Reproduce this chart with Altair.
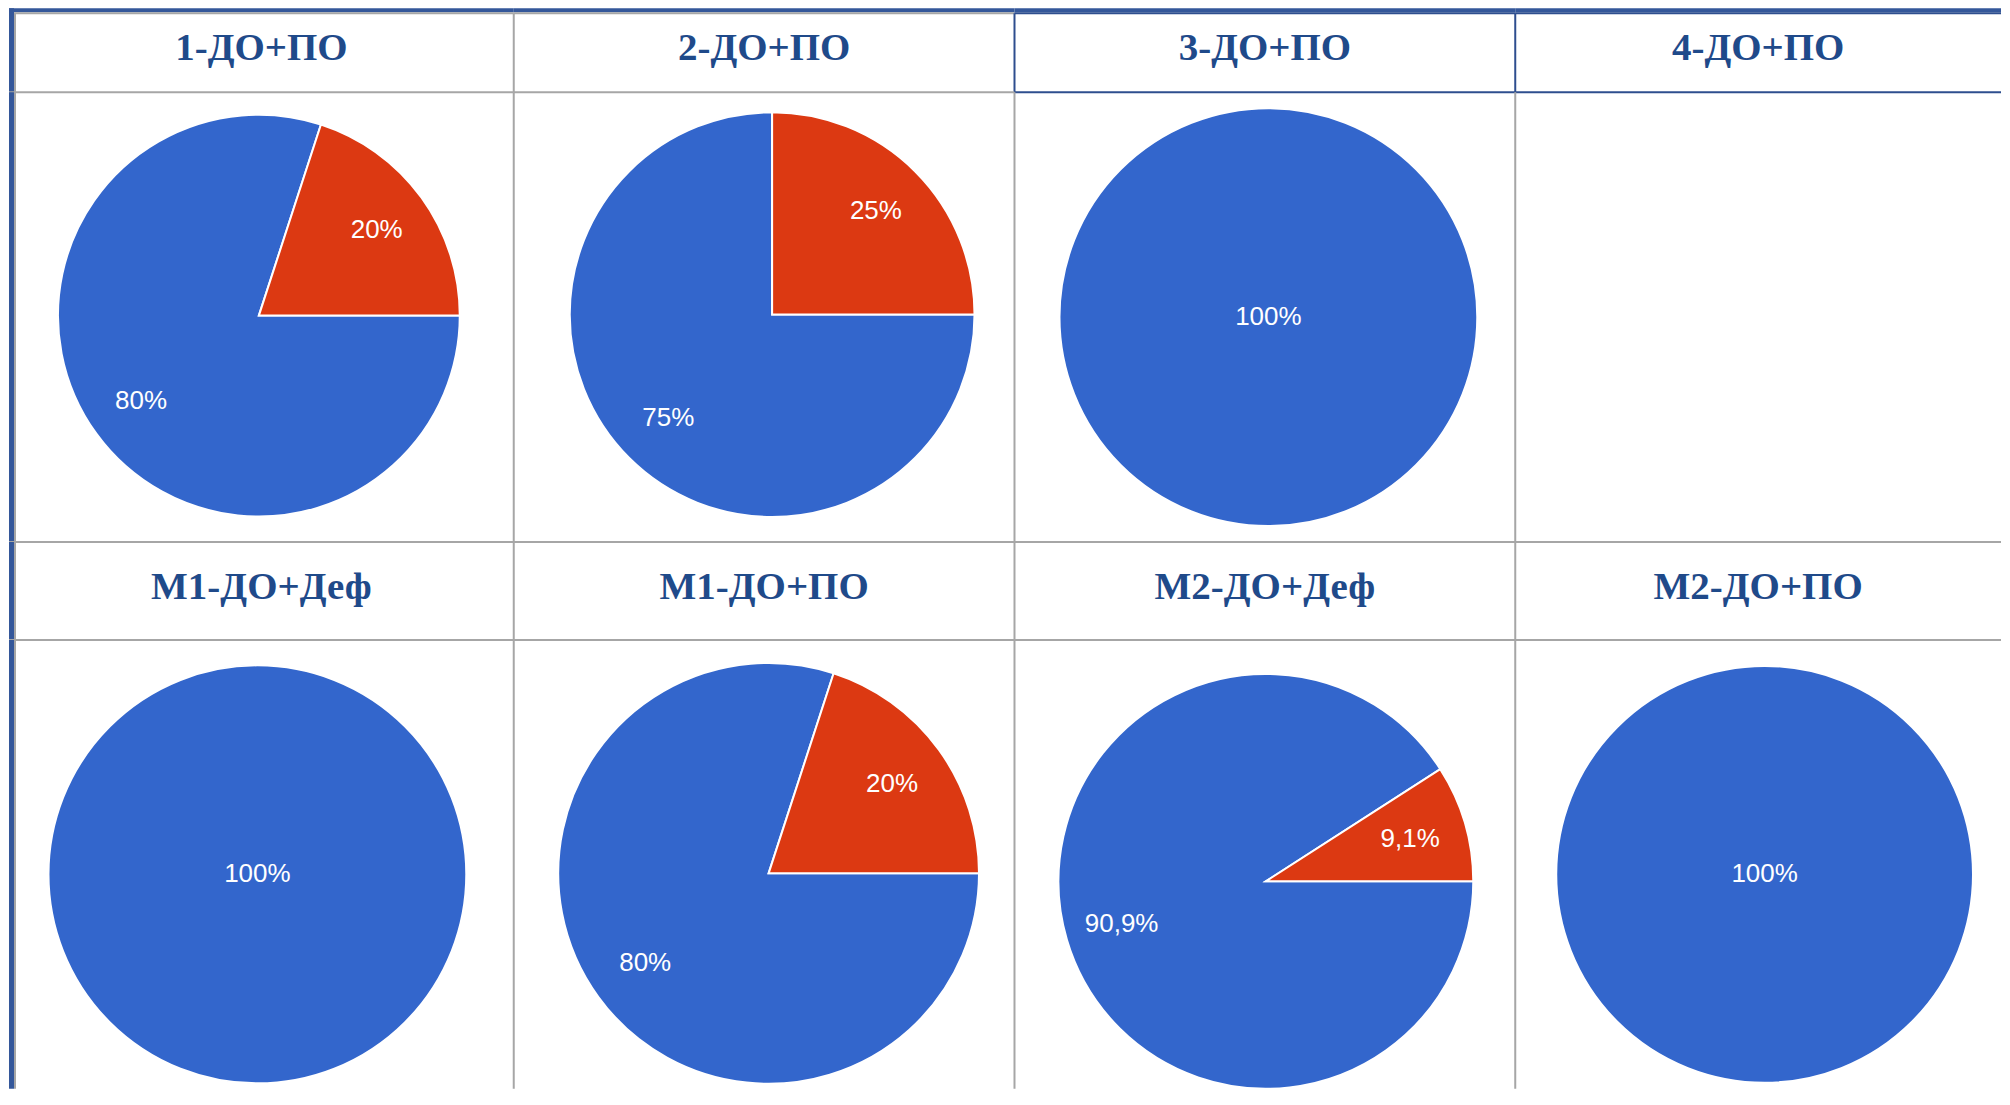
import math
import altair as alt
import pandas as pd

# ---------------- data ----------------
panel_names = ["1-ДО+ПО", "2-ДО+ПО", "3-ДО+ПО", "4-ДО+ПО",
               "М1-ДО+Деф", "М1-ДО+ПО", "М2-ДО+Деф", "М2-ДО+ПО"]

slice_panel = ["1-ДО+ПО", "1-ДО+ПО", "2-ДО+ПО", "2-ДО+ПО", "3-ДО+ПО",
               "М1-ДО+Деф", "М1-ДО+ПО", "М1-ДО+ПО", "М2-ДО+Деф", "М2-ДО+Деф", "М2-ДО+ПО"]
slice_cat = ["Вариант 1", "Вариант 2", "Вариант 1", "Вариант 2", "Вариант 1",
             "Вариант 1", "Вариант 1", "Вариант 2", "Вариант 1", "Вариант 2", "Вариант 1"]
slice_val = [80, 20, 75, 25, 100, 100, 80, 20, 90.9, 9.1, 100]
categories = ["Вариант 1", "Вариант 2"]

df = pd.DataFrame({"pie": slice_panel, "cat": slice_cat, "value": slice_val})
df["order"] = df["cat"].map({c: i for i, c in enumerate(categories)})
df["label"] = df["value"].map(lambda v: f"{v:g}%".replace(".", ","))
hdr_df = pd.DataFrame({"pie": panel_names})

# ---------------- style / layout ----------------
BLUE = "#3366CC"
RED = "#DC3912"
HDR_COLOR = "#1F4A8A"
BAR = "#34579A"
GRID = "#A6A6A6"
BLUE_LINE = "#2E4E8E"

COL_W = [505, 501, 501, 486]
ROW_H = [84, 450, 98, 449]
HDR_BASE = [52, 57]  # text baseline within header rows
BAR_W = 5

# pie geometry per panel: (cx, cy, r) in cell-local pixels
PIE_GEOM = {
    "1-ДО+ПО": (250, 223.5, 201),
    "2-ДО+ПО": (258.5, 222.5, 202.5),
    "3-ДО+ПО": (254, 225, 209),
    "М1-ДО+Деф": (248.5, 234.5, 209),
    "М1-ДО+ПО": (255, 233.5, 210.5),
    "М2-ДО+Деф": (251.5, 241.5, 207.5),
    "М2-ДО+ПО": (249.5, 234.5, 208.5),
}

TH = alt.Scale(domain=[0, 100], range=[math.pi / 2, math.pi / 2 + 2 * math.pi])
one = pd.DataFrame({"k": [0]})


def decorations(w, h, col, top_color, left_color, top_bar=False):
    base = alt.Chart(one)
    layers = []
    ty = 5 if top_bar else 0
    if top_bar:
        layers.append(base.mark_rect(color=BAR).encode(
            x=alt.value(0), x2=alt.value(w), y=alt.value(0), y2=alt.value(4)))
    layers.append(base.mark_rule(color=top_color, strokeWidth=2).encode(
        x=alt.value(0), x2=alt.value(w), y=alt.value(ty)))
    if col == 0:
        layers.append(base.mark_rect(color=BAR).encode(
            x=alt.value(0), x2=alt.value(BAR_W), y=alt.value(0), y2=alt.value(h)))
        layers.append(base.mark_rule(color=GRID, strokeWidth=2).encode(
            x=alt.value(BAR_W + 1), y=alt.value(ty), y2=alt.value(h)))
    else:
        layers.append(base.mark_rule(color=left_color, strokeWidth=2).encode(
            x=alt.value(0), y=alt.value(ty), y2=alt.value(h)))
    return layers


def header_cell(name, row, col):
    w, h = COL_W[col], ROW_H[row * 2]
    blue = (row == 0 and col >= 2)
    lc = BLUE_LINE if blue else GRID
    tc = BLUE_LINE if blue else GRID
    txt = alt.Chart(hdr_df).transform_filter(alt.datum.pie == name).mark_text(
        font="Liberation Serif", fontWeight="bold", fontSize=39, color=HDR_COLOR,
        align="center", baseline="alphabetic"
    ).encode(text="pie:N", x=alt.value(w / 2), y=alt.value(HDR_BASE[row]))
    layers = decorations(w, h, col, tc, lc, top_bar=(row == 0)) + [txt]
    return alt.layer(*layers).properties(width=w, height=h)


def pie_cell(name, row, col):
    w, h = COL_W[col], ROW_H[row * 2 + 1]
    top_c = BLUE_LINE if (row == 0 and col >= 2) else GRID
    layers = decorations(w, h, col, top_c, GRID)
    if name in PIE_GEOM:
        cx, cy, r = PIE_GEOM[name]
        base = alt.Chart(df).transform_filter(alt.datum.pie == name).transform_stack(
            stack="value", groupby=["pie"], as_=["v0", "v1"],
            sort=[alt.SortField("order", order="ascending")]
        ).transform_calculate(
            mid="(datum.v0 + datum.v1) / 2",
            lr=f"datum.value >= 100 ? 0 : {0.725 * r}"
        )
        arcs = base.mark_arc(radius=r, stroke="white", strokeWidth=2).encode(
            theta=alt.Theta("v0:Q", scale=TH, stack=None),
            theta2="v1:Q",
            color=alt.Color("cat:N", scale=alt.Scale(domain=categories, range=[BLUE, RED]), legend=None),
            x=alt.value(cx), y=alt.value(cy),
        )
        labels = base.mark_text(font="Liberation Sans", fontSize=26, color="white",
                                align="center", baseline="middle").encode(
            theta=alt.Theta("mid:Q", scale=TH, stack=None),
            radius=alt.Radius("lr:Q", scale=None),
            text="label:N",
            x=alt.value(cx), y=alt.value(cy),
        )
        layers = [arcs, labels] + layers
    return alt.layer(*layers).properties(width=w, height=h)


cells = []
for row in range(2):
    names = panel_names[row * 4:(row + 1) * 4]
    cells += [header_cell(n, row, c) for c, n in enumerate(names)]
    cells += [pie_cell(n, row, c) for c, n in enumerate(names)]

chart = alt.concat(*cells, columns=4, spacing=0, bounds="flush", align="each").properties(
    padding=0, background="white"
).configure_view(stroke=None)

chart.save("out.html", embed_options={"renderer": "svg", "actions": False})
